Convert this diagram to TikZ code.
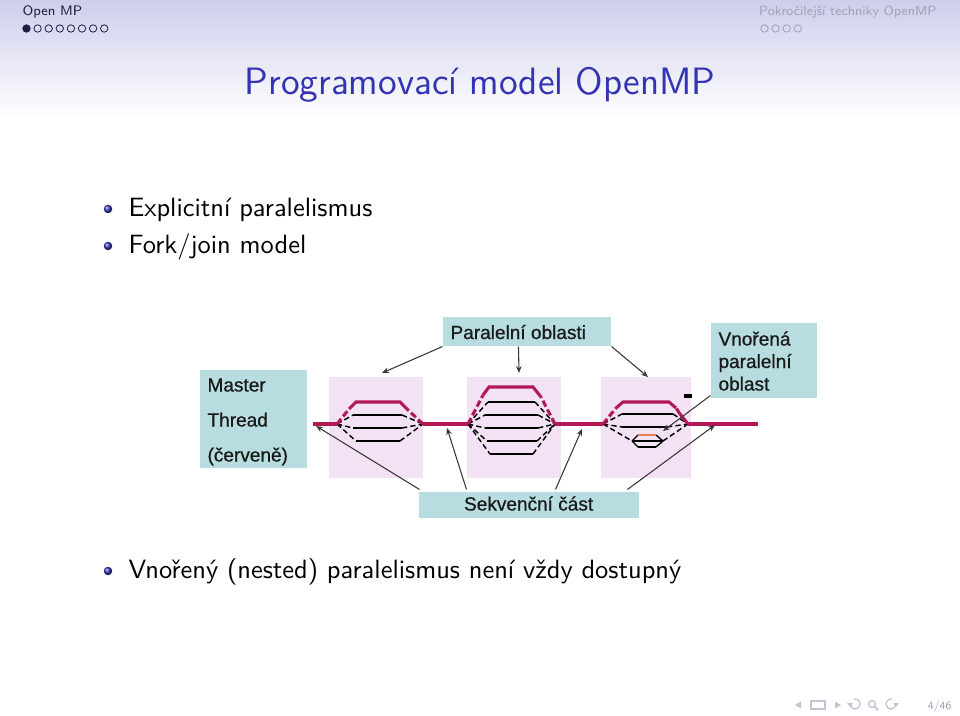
\documentclass[tikz,border=0pt]{standalone}
\usepackage{fontspec}
\newfontfamily\diagfont[FakeBold=0.7]{Liberation Sans}
\usetikzlibrary{arrows.meta,calc,fit,shapes.geometric}
\definecolor{tealfill}{RGB}{183,221,224}
\definecolor{pinkreg}{RGB}{242,226,243}
\definecolor{threadred}{RGB}{178,24,88}
\definecolor{nestorange}{RGB}{234,130,80}
\definecolor{beamerblue}{RGB}{51,51,179}
\definecolor{headnavy}{RGB}{30,30,70}
\definecolor{headgray}{RGB}{160,160,185}
\definecolor{navgray}{RGB}{195,195,215}
\definecolor{arrowgray}{RGB}{55,55,55}
\definecolor{headtop}{RGB}{206,206,236}
\begin{document}
\begin{tikzpicture}[x=0.378pt,y=-0.378pt,
  headtxt/.style={font=\sffamily\fontsize{5}{6}\selectfont, inner sep=0pt},
  bodytxt/.style={font=\sffamily\fontsize{10}{12}\selectfont, anchor=base west, inner sep=0pt},
  ballitem/.style={circle, inner sep=0pt, minimum size=3.2pt, ball color=beamerblue, draw=none},
  tealbox/.style={fill=tealfill, draw=none, inner sep=0pt},
  regionbox/.style={fill=pinkreg, draw=none, inner sep=0pt},
  diaglbl/.style={font=\diagfont\fontsize{7.2}{8}\selectfont, anchor=base west, inner sep=0pt, text=black!90},
  threadline/.style={draw=black, line width=0.75pt},
  dashthread/.style={draw=black, line width=0.55pt, dash pattern=on 2pt off 1.2pt},
  masterline/.style={draw=threadred, line width=1.15pt},
  masterdash/.style={draw=threadred, line width=1.15pt, dash pattern=on 2.5pt off 1.2pt},
  pointer/.style={draw=arrowgray, line width=0.4pt, -{Stealth[length=2.6pt,width=2.1pt]}},
  navsym/.style={draw=navgray, fill=navgray, line width=0.3pt}
]
\useasboundingbox (0,0) rectangle (960,716);
\fill[white] (0,0) rectangle (960,716);
\shade[top color=headtop, bottom color=white] (0,0) rectangle (960,118);

% ---------- header ----------
\node[headtxt, font=\sffamily\fontsize{5.2}{6}\selectfont, text=headnavy, anchor=base west] (hleft) at (22,16) {Open MP};
\node[headtxt, text=headgray, anchor=base east] (hright) at (937,16) {Pokročilejší techniky OpenMP};
\foreach \i in {0,...,7} {
  \draw[headnavy, line width=0.3pt] (26.5+\i*11.1,28.5) circle[radius=3.7];
}
\fill[headnavy] (26.5,28.5) circle[radius=3.8];
\foreach \i in {0,...,3} {
  \draw[headgray, line width=0.3pt] (764.5+\i*11.1,28.5) circle[radius=3.7];
}

% ---------- title ----------
\node[font=\sffamily\fontsize{14.4}{17}\selectfont, text=beamerblue, anchor=base, inner sep=0pt] (title) at (480,95) {Programovací model OpenMP};

% ---------- bullets ----------
\node[ballitem] (d1) at (108,209) {};
\node[bodytxt] (t1) at (128,216.5) {Explicitní paralelismus};
\node[ballitem] (d2) at (108,246) {};
\node[bodytxt] (t2) at (128,253.5) {Fork/join model};
\node[ballitem] (d3) at (108,571) {};
\node[bodytxt] (t3) at (128,578.5) {Vnořený (nested) paralelismus není vždy dostupný};

% ---------- diagram: boxes ----------
\node[tealbox, fit={(200,370)(307,468)}] (master) {};
\node[diaglbl] (mt1) at (207,391.5) {Master};
\node[diaglbl] (mt2) at (207,426.5) {Thread};
\node[diaglbl] (mt3) at (207,461.5) {(červeně)};

\node[tealbox, fit={(443,317)(611,346)}] (par) {};
\node[diaglbl] (part) at (450,339) {Paralelní oblasti};

\node[tealbox, fit={(711,323)(817,398)}] (vn) {};
\node[diaglbl] (vn1) at (718,345.5) {Vnořená};
\node[diaglbl] (vn2) at (718,368) {paralelní};
\node[diaglbl] (vn3) at (718,390.5) {oblast};

\node[tealbox, fit={(419,492)(639,518)}] (seq) {};
\node[diaglbl] (seqt) at (463.5,510.5) {Sekvenční část};

% ---------- parallel regions ----------
\node[regionbox, fit={(329,377)(423,478)}] (reg1) {};
\node[regionbox, fit={(467,377)(561,478)}] (reg2) {};
\node[regionbox, fit={(601,377)(691,478)}] (reg3) {};

\coordinate (M0) at (313,424);
\coordinate (F1) at (337,424);
\coordinate (J1) at (423,424);
\coordinate (F2) at (468,424);
\coordinate (J2) at (555,424);
\coordinate (F3) at (603,424);
\coordinate (J3) at (688,424);
\coordinate (M9) at (758,424);

% region 1
\foreach \y/\l/\r in {415/353/402, 428/353/402, 441/356/400} {
  \draw[threadline] (\l,\y) -- (\r,\y);
  \draw[dashthread] (F1) -- (\l,\y);
  \draw[dashthread] (\r,\y) -- (J1);
}
\draw[masterline] (349,409) -- (356,402) -- (400,402) -- (407,409);
\draw[masterdash] (F1) -- (349,409);
\draw[masterdash] (J1) -- (407,409);

% region 2
\foreach \y/\l/\r in {402/488/535, 415/485/538, 428/485/538, 441/487/537, 454/490/533} {
  \draw[threadline] (\l,\y) -- (\r,\y);
  \draw[dashthread] (F2) -- (\l,\y);
  \draw[dashthread] (\r,\y) -- (J2);
}
\draw[masterline] (483,395) -- (489,387) -- (533,387) -- (541,397);
\draw[masterdash] (F2) -- (483,395);
\draw[masterdash] (J2) -- (541,397);

% region 3
\foreach \y/\l/\r in {414/622/673, 427/622/667} {
  \draw[threadline] (\l,\y) -- (\r,\y);
  \draw[dashthread] (F3) -- (\l,\y);
  \draw[dashthread] (\r,\y) -- (J3);
}
\coordinate (N1) at (632,441);
\coordinate (N2) at (663,441);
\draw[dashthread] (F3) -- (N1);
\draw[dashthread] (N2) -- (J3);
\draw[draw=black, line width=0.5pt] (N1) -- (638,435) (N1) -- (638,447) (656,435) -- (N2) (656,447) -- (N2);
\draw[threadline] (N1) -- (N2);
\draw[threadline] (638,447) -- (656,447);
\draw[draw=nestorange, line width=0.75pt] (638,435) -- (656,435);
\draw[masterline] (616,408) -- (623,402) -- (669,402) -- (676,408);
\draw[masterdash] (F3) -- (616,408);
\draw[masterline] (J3) -- (680,414);
\draw[masterdash] (680,414) -- (676,408);
\fill[black] (684,393.5) rectangle (692,397.5);

% master (sequential) line
\draw[masterline] (M0) -- (F1);
\draw[masterline] (J1) -- (F2);
\draw[masterline] (J2) -- (F3);
\draw[masterline] (J3) -- (M9);

% ---------- pointer arrows ----------
\coordinate (p1) at (382,373);
\coordinate (p2) at (519,373);
\coordinate (p3) at (648,377);
\coordinate (p4) at (663,431);
\coordinate (p5) at (316,426);
\coordinate (p6) at (447,428);
\coordinate (p7) at (582,429);
\coordinate (p8) at (715,425);
\draw[pointer] (par.south west) -- (p1);
\draw[pointer] ($(par.south west)+(76,0)$) -- (p2);
\draw[pointer] (par.south east) -- (p3);
\draw[pointer] ($(vn.south west)+(0,-3)$) -- (p4);
\draw[pointer] ($(seq.north west)+(1,-2)$) -- (p5);
\draw[pointer] ($(seq.north west)+(48,-2)$) -- (p6);
\draw[pointer] ($(seq.north west)+(137,-2)$) -- (p7);
\draw[pointer] ($(seq.north west)+(209,-2)$) -- (p8);

% ---------- navigation symbols ----------
\fill[navgray] (795,705) -- (801,701.5) -- (801,708.5) -- cycle;
\draw[navgray, line width=0.4pt] (811,701) rectangle (825,709);
\fill[navgray] (841,705) -- (835,701.5) -- (835,708.5) -- cycle;
\draw[navgray, line width=0.5pt] (850,704) arc[start angle=180, end angle=-100, radius=5];
\fill[navgray] (847,703) -- (853,703) -- (850,707) -- cycle;
\draw[navgray, line width=0.5pt] (872,704) circle[radius=3.5];
\draw[navgray, line width=0.7pt] (874.5,706.5) -- (878,710);
\draw[navgray, line width=0.5pt] (896,704) arc[start angle=0, end angle=280, radius=5];
\fill[navgray] (893,703) -- (899,703) -- (896,707) -- cycle;
\node[headtxt, font=\sffamily\fontsize{4.2}{5}\selectfont, text=headgray, anchor=base east] (pagenum) at (952,709) {4/46};
\end{tikzpicture}
\end{document}
